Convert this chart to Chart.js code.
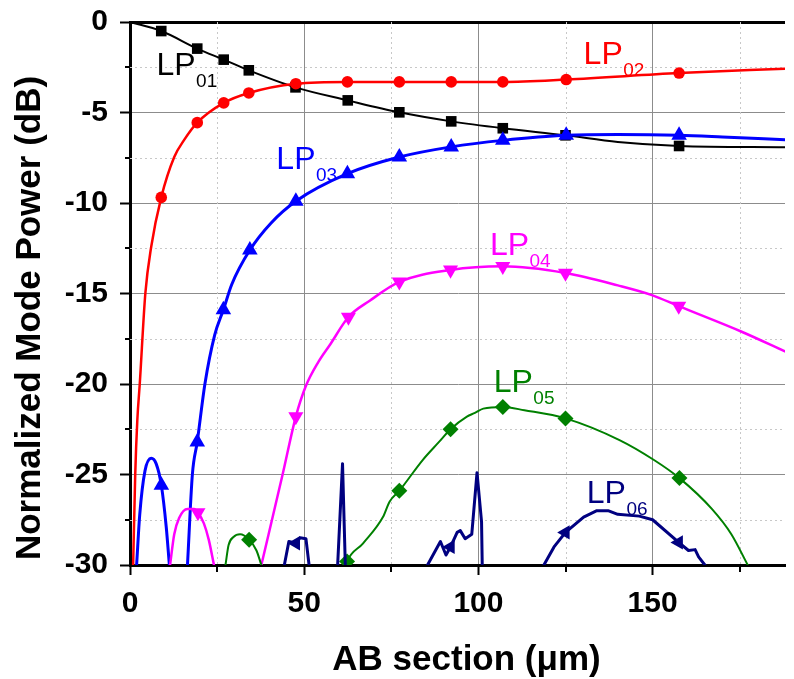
<!DOCTYPE html>
<html>
<head>
<meta charset="utf-8">
<script src="https://cdn.jsdelivr.net/npm/chart.js@4.4.0/dist/chart.umd.min.js"></script>
<style>
html,body{margin:0;padding:0;background:#fff;}
#wrap{width:794px;height:679px;position:relative;}
</style>
</head>
<body>
<div id="wrap"><canvas id="c" width="794" height="679"></canvas></div>
<script>
// ---------- data ----------
const xMinorTicks = [25, 75, 125, 175];
const yMinorTicks = [-2.5, -7.5, -12.5, -17.5, -22.5, -27.5];

const modeNames = ['LP01', 'LP02', 'LP03', 'LP04', 'LP05', 'LP06'];

// curves: [x (µm), normalized power (dB)], null = gap below -30 dB
const lp01Curve = [[0,0],[8.97,-0.5],[19.3,-1.47],[26.9,-2.08],[34.1,-2.67],[47.5,-3.61],[62.5,-4.33],[77.3,-4.99],[92.2,-5.49],[107,-5.87],[125,-6.26],[140,-6.63],[157.6,-6.85],[188,-6.92]];
const lp01Marks = [[8.97,-0.5],[19.3,-1.47],[26.9,-2.08],[34.1,-2.67],[47.5,-3.61],[62.5,-4.33],[77.3,-4.99],[92.2,-5.49],[107,-5.87],[125,-6.26],[157.6,-6.85]];

const lp02Curve = [[0.9,-30],[1.5,-25],[2.1,-22],[2.8,-20],[4.4,-15],[6.1,-12.4],[8.97,-9.69],[12.7,-7.46],[15.6,-6.5],[19.3,-5.56],[26.9,-4.47],[34.1,-3.92],[47.6,-3.41],[62.4,-3.31],[77.3,-3.31],[92.2,-3.31],[107,-3.31],[125.2,-3.18],[157.6,-2.82],[188,-2.58]];
const lp02Marks = [[8.97,-9.69],[19.3,-5.56],[26.9,-4.47],[34.1,-3.92],[47.6,-3.41],[62.4,-3.31],[77.3,-3.31],[92.2,-3.31],[107,-3.31],[125.2,-3.18],[157.6,-2.82]];

const lp03Curve = [[1.9,-30],[2.8,-27.2],[4.3,-24.8],[6.1,-24.1],[7.5,-24.4],[9.0,-25.6],[10.4,-27.9],[11.3,-30],[14,null],[16.5,-30],[17.9,-25],[19.3,-23.2],[21.5,-20],[24.3,-17.3],[26.8,-15.9],[29.2,-14.5],[34.4,-12.6],[40.5,-11.1],[47.6,-9.9],[62.4,-8.38],[77.3,-7.46],[92.2,-6.9],[107,-6.54],[125.2,-6.26],[140,-6.22],[157.6,-6.26],[170,-6.35],[188,-6.5]];
const lp03Marks = [[9.0,-25.6],[19.3,-23.2],[26.8,-15.9],[34.4,-12.6],[47.6,-9.9],[62.4,-8.38],[77.3,-7.46],[92.2,-6.9],[107,-6.54],[125.2,-6.26],[157.6,-6.26]];

const lp04Curve = [[11.5,-30],[12.7,-28.3],[14.1,-27.4],[16.5,-26.9],[18.4,-26.9],[19.5,-27.1],[21.2,-27.7],[22.6,-28.6],[24.1,-30],[30,null],[37.7,-30],[43.8,-25],[47.6,-21.8],[50.5,-20.1],[54,-18.8],[57.5,-17.8],[62.7,-16.3],[68.8,-15.4],[77.3,-14.36],[92,-13.7],[107,-13.5],[125,-13.87],[140,-14.55],[150,-15.1],[157.5,-15.7],[175.4,-17.1],[188,-18.2]];
const lp04Marks = [[19.5,-27.1],[47.6,-21.8],[62.7,-16.3],[77.3,-14.36],[92,-13.7],[107,-13.5],[125,-13.87],[157.5,-15.7]];

const lp05Curve = [[27.4,-30],[28.3,-28.9],[29.7,-28.45],[31.6,-28.3],[34.2,-28.6],[36.3,-29.2],[37.7,-30],[50,null],[62.0,-30],[62.3,-29.8],[66.9,-28.8],[72.6,-27.35],[74.5,-26.5],[77.3,-25.9],[84,-24.2],[88.7,-23.2],[92,-22.5],[96.7,-21.8],[99,-21.6],[101.4,-21.36],[107,-21.27],[113.2,-21.45],[125,-21.9],[140.5,-23.1],[150.4,-24.2],[157.7,-25.2],[167,-26.9],[172.6,-28.3],[177.3,-30]];
const lp05Marks = [[34.2,-28.6],[62.3,-29.8],[77.3,-25.9],[92,-22.5],[107,-21.27],[125,-21.9],[157.7,-25.2]];

const lp06Curve = [[44.3,-30],[45.6,-28.7],[47.6,-28.8],[48.8,-28.5],[50.5,-28.55],[51.4,-30],[55,null],[59.6,-30],[61.0,-24.4],[61.8,-30],[70,null],[85.4,-30],[89.1,-28.7],[90.7,-29.45],[92,-29.0],[93.9,-28.2],[94.8,-28.1],[96.2,-28.55],[98.1,-28.3],[99.6,-24.9],[100.9,-27.6],[101.1,-30],[110,null],[118.8,-30],[121.7,-29.0],[125,-28.2],[130.2,-27.35],[134,-27.0],[137.2,-27.0],[140,-27.2],[146.2,-27.3],[150,-27.5],[157.5,-28.75],[160.3,-29.2],[162.2,-29.15],[163.2,-29.55],[165,-30]];
const lp06Marks = [[47.6,-28.8],[92,-29.0],[125,-28.2],[157.5,-28.75]];

// ---------- styling ----------
const FONT = "'Liberation Sans', Arial, Helvetica, sans-serif";
const styles = [
  {color:'#000000', width:2,   style:'rect',     radius:7.5, rotation:0,   tension:'mono'},
  {color:'#ff0000', width:2.5, style:'circle',   radius:5.8, rotation:0,   tension:'mono'},
  {color:'#0000ff', width:3,   style:'triangle', radius:9,   rotation:0,   tension:'mono'},
  {color:'#ff00ff', width:2.5, style:'triangle', radius:8.7, rotation:180, tension:'mono'},
  {color:'#008000', width:2,   style:'rectRot',  radius:8,   rotation:0,   tension:'mono'},
  {color:'#000080', width:3,   style:'triangle', radius:8.3, rotation:-90, tension:'none'}
];
// label anchors (data units, baseline-left of "LP")
const labelAnchors = [[7.6,-2.94],[130.2,-2.34],[42.0,-8.1],[103.3,-12.9],[104.4,-20.44],[131.1,-26.6]];

const curves = [lp01Curve, lp02Curve, lp03Curve, lp04Curve, lp05Curve, lp06Curve];
const marks  = [lp01Marks, lp02Marks, lp03Marks, lp04Marks, lp05Marks, lp06Marks];
const toXY = arr => arr.map(p => ({x: p[0], y: p[1]}));

const datasets = [];
curves.forEach((c, i) => {
  const s = styles[i];
  datasets.push({
    label: modeNames[i] + ' curve',
    data: toXY(c),
    borderColor: s.color, backgroundColor: s.color,
    borderWidth: s.width, pointRadius: 0, pointHitRadius: 0,
    cubicInterpolationMode: s.tension === 'mono' ? 'monotone' : 'default',
    tension: 0, spanGaps: false, fill: false,
    borderJoinStyle: 'round', borderCapStyle: 'round',
    order: 100 - i * 2
  });
  datasets.push({
    label: modeNames[i],
    data: toXY(marks[i]),
    showLine: false,
    pointStyle: s.style, pointRadius: s.radius, pointRotation: s.rotation,
    pointBackgroundColor: s.color, pointBorderColor: s.color, pointBorderWidth: 0,
    pointHoverRadius: s.radius,
    clip: 0,
    order: 99 - i * 2
  });
});

const xTickFont = {family: FONT, size: 30, weight: 'bold', lineHeight: 1.2};
const yTickFont = {family: FONT, size: 30, weight: 'bold', lineHeight: 0.6667};
const transparent = 'rgba(0,0,0,0)';

const decorations = {
  id: 'decorations',
  beforeDatasetsDraw(chart) {
    const {ctx, chartArea: a, scales: {x, y}} = chart;
    ctx.save();
    ctx.strokeStyle = '#c8c8c8';
    ctx.lineWidth = 1;
    ctx.setLineDash([2, 3]);
    xMinorTicks.forEach(v => {
      const px = Math.round(x.getPixelForValue(v)) + 0.5;
      ctx.beginPath(); ctx.moveTo(px, a.top); ctx.lineTo(px, a.bottom); ctx.stroke();
    });
    yMinorTicks.forEach(v => {
      const py = Math.round(y.getPixelForValue(v)) + 0.5;
      ctx.beginPath(); ctx.moveTo(a.left, py); ctx.lineTo(a.right, py); ctx.stroke();
    });
    ctx.setLineDash([]);
    ctx.strokeStyle = '#000';
    ctx.lineWidth = 2;
    xMinorTicks.forEach(v => {
      const px = Math.round(x.getPixelForValue(v));
      ctx.beginPath(); ctx.moveTo(px, a.bottom); ctx.lineTo(px, a.bottom + 7); ctx.stroke();
    });
    yMinorTicks.forEach(v => {
      const py = Math.round(y.getPixelForValue(v));
      ctx.beginPath(); ctx.moveTo(a.left - 5, py); ctx.lineTo(a.left, py); ctx.stroke();
    });
    ctx.restore();
  },
  afterDatasetsDraw(chart) {
    const {ctx, scales: {x, y}} = chart;
    ctx.save();
    ctx.textAlign = 'left';
    ctx.textBaseline = 'alphabetic';
    labelAnchors.forEach((p, i) => {
      const px = x.getPixelForValue(p[0]);
      const py = y.getPixelForValue(p[1]);
      ctx.fillStyle = styles[i].color;
      ctx.font = `32px ${FONT}`;
      ctx.fillText('LP', px, py);
      const w = ctx.measureText('LP').width;
      ctx.font = `19px ${FONT}`;
      ctx.fillText(modeNames[i].slice(2), px + w + 0.5, py + 12);
    });
    ctx.restore();
  },
  afterDraw(chart) {
    const {ctx} = chart;
    ctx.save();
    ctx.fillStyle = '#000';
    ctx.font = `bold 35px ${FONT}`;
    ctx.textAlign = 'center';
    ctx.textBaseline = 'alphabetic';
    ctx.fillText('AB section (\u03bcm)', 466.5, 670);
    ctx.translate(40, 318);
    ctx.rotate(-Math.PI / 2);
    ctx.fillText('Normalized Mode Power (dB)', 0, 0);
    ctx.restore();
  }
};

new Chart(document.getElementById('c'), {
  type: 'line',
  data: {datasets},
  plugins: [decorations],
  options: {
    responsive: false,
    animation: false,
    devicePixelRatio: 1,
    events: [],
    layout: {padding: {top: 0, left: 0, right: 0, bottom: 0}},
    plugins: {legend: {display: false}, tooltip: {enabled: false}},
    scales: {
      x: {
        type: 'linear', min: 0, max: 188,
        afterFit: s => { s.height = 114; },
        ticks: {
          stepSize: 25, includeBounds: false, autoSkip: false, maxRotation: 0, minRotation: 0,
          padding: 11, color: '#000', font: xTickFont,
          callback: v => (v % 50 === 0 ? String(v) : '')
        },
        grid: {
          color: c => (c.tick && c.tick.value % 50 === 0 && c.tick.value !== 0) ? '#8c8c8c' : transparent,
          lineWidth: 1,
          tickLength: 10,
          tickWidth: 2,
          tickColor: c => (c.tick && c.tick.value % 50 === 0) ? '#000' : transparent
        },
        border: {color: '#000', width: 3}
      },
      y: {
        type: 'linear', min: -30, max: 0,
        afterFit: s => { s.width = 130; },
        ticks: {
          stepSize: 2.5, includeBounds: false, autoSkip: false,
          padding: 12, color: '#000', font: yTickFont,
          callback: v => (v % 5 === 0 ? String(Math.round(v)) : '')
        },
        grid: {
          color: c => {
            if (!c.tick) return transparent;
            const v = c.tick.value;
            if (v === 0) return '#000';
            if (v % 5 === 0 && v !== -30) return '#8c8c8c';
            return transparent;
          },
          lineWidth: c => (c.tick && c.tick.value === 0) ? 3 : 1,
          tickLength: 10,
          tickWidth: 2,
          tickColor: c => (c.tick && c.tick.value % 5 === 0) ? '#000' : transparent
        },
        border: {color: '#000', width: 3}
      }
    }
  }
});
</script>
</body>
</html>
